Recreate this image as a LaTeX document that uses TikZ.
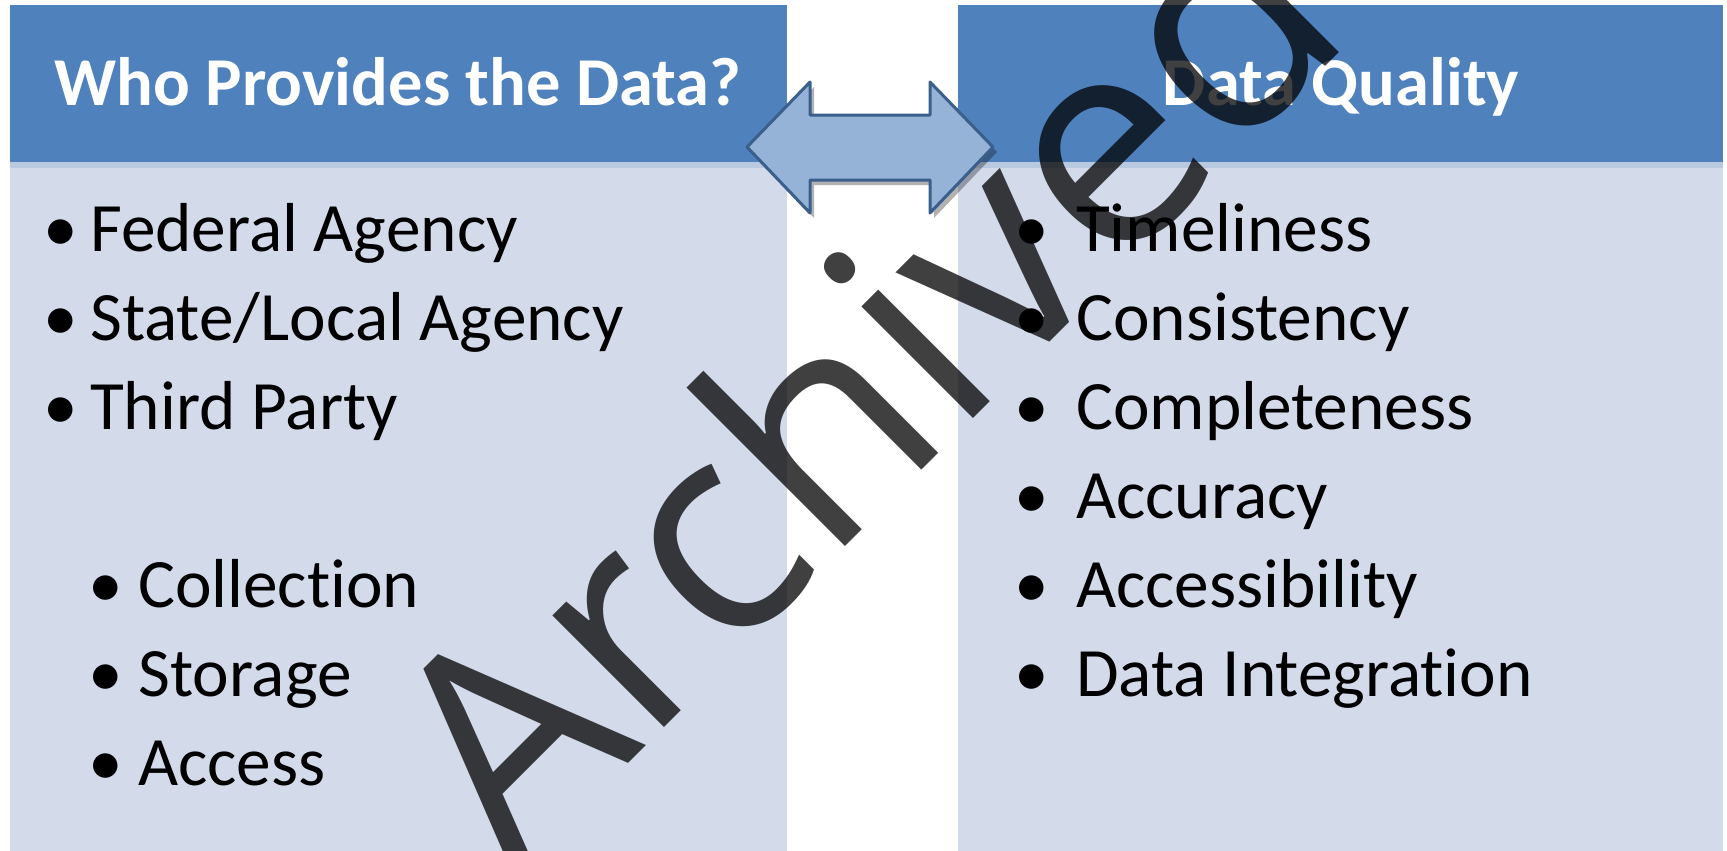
\documentclass[tikz,border=0pt]{standalone}
\usepackage{fontspec}
\setmainfont{Carlito}[Ligatures=NoCommon]
\newfontfamily\markfont{Open Sans}
\usetikzlibrary{positioning}
\definecolor{headblue}{HTML}{4F81BD}
\definecolor{bodyblue}{HTML}{D3DBEB}
\definecolor{bandblue}{HTML}{B9C9DF}
\definecolor{arrowfill}{HTML}{95B3D7}
\definecolor{arrowline}{HTML}{3A5F8B}
\tikzset{
  headbar/.style={fill=headblue},
  bodybar/.style={fill=bodyblue},
  title/.style={anchor=base, inner sep=0pt, text=white, font=\bfseries\fontsize{68.5}{82}\selectfont},
  item/.style={anchor=base west, inner sep=0pt, font=\fontsize{69.3}{84}\selectfont},
  dot/.style={anchor=base, inner sep=0pt, font=\fontsize{69.3}{84}\selectfont},
  wmark/.style={anchor=base, inner sep=0pt, rotate=45, text=black, text opacity=0.75,
    font=\markfont\fontsize{295}{300}\selectfont}
}

\begin{document}
\begin{tikzpicture}[x=1pt,y=-1pt]
\useasboundingbox (0,0) rectangle (1727,851);
\clip (0,0) rectangle (1727,851);
% left panel
\fill[bodybar] (10,162) rectangle (787,851);
\fill[bandblue] (10,162) rectangle (787,168);
\fill[headbar] (10,5) rectangle (787,162);
\node[title] (lhead) at (398,106) {Who Provides the Data?};
% right panel
\fill[bodybar] (958,162) rectangle (1723,851);
\fill[bandblue] (958,162) rectangle (1723,168);
\fill[headbar] (958,5) rectangle (1723,162);
\node[title] (rhead) at (1341,106) {Data Quality};
% double arrow between the headers
\fill[black,opacity=0.3,shift={(4,5)}] (747,147) -- (810,82) -- (810,115) -- (930,115) -- (930,82)
  -- (993,147) -- (930,213) -- (930,180) -- (810,180) -- (810,213) -- cycle;
\draw[arrowline,fill=arrowfill,line width=3pt,line join=round] (747,147) -- (810,82) -- (810,115)
  -- (930,115) -- (930,82) -- (993,147) -- (930,213) -- (930,180) -- (810,180) -- (810,213) -- cycle;
% who provides
\foreach \txt [count=\i] in {Federal Agency, State/Local Agency, Third Party} {
  \node[dot] (lb\i) at (61,{251+89*(\i-1)}) {\textbullet};
  \node[item] (lt\i) at (90,{251+89*(\i-1)}) {\txt};
}
\foreach \txt [count=\i] in {Collection, Storage, Access} {
  \node[dot] (sb\i) at (106,{607+89*(\i-1)}) {\textbullet};
  \node[item] (st\i) at (138,{607+89*(\i-1)}) {\txt};
}
% data quality
\foreach \txt [count=\i] in {Timeliness, Consistency, Completeness, Accuracy, Accessibility, Data Integration} {
  \node[dot] (rb\i) at (1032,{251+89*(\i-1)}) {\textbullet};
  \node[item] (rt\i) at (1076,{251+89*(\i-1)}) {\txt};
}
% watermark
\node[wmark] (stamp) at (936,456) {Archived};
\end{tikzpicture}
\end{document}
